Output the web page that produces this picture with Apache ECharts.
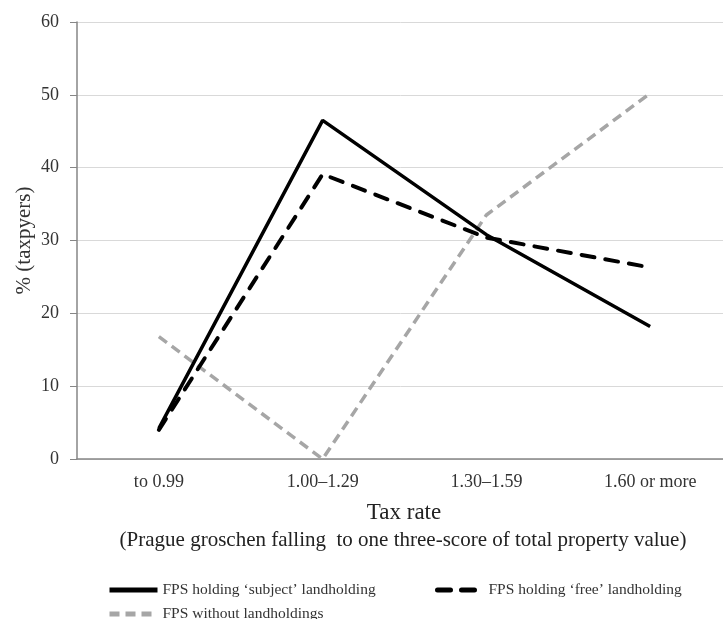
<!DOCTYPE html>
<html>
<head>
<meta charset="utf-8">
<script src="https://cdn.jsdelivr.net/npm/echarts@6/dist/echarts.min.js"></script>
<style>html,body{margin:0;padding:0;background:#fff;}#c{width:723px;height:619px;}</style>
</head>
<body>
<div id="c"></div>
<script>
const categories = ['to 0.99', '1.00\u20131.29', '1.30\u20131.59', '1.60 or more'];
const subjectVals = [4.2, 46.5, 30.8, 18.2];
const freeVals = [4.0, 39.1, 30.4, 26.3];
const withoutVals = [16.8, 0, 33.5, 50.2];
const yTicks = { min: 0, max: 60, interval: 10 };
const names = ['FPS holding \u2018subject\u2019 landholding', 'FPS holding \u2018free\u2019 landholding', 'FPS without landholdings'];

const F = '"Liberation Serif", "Times New Roman", serif';
const chart = echarts.init(document.getElementById('c'), null, { renderer: 'canvas' });
const legendText = { fontFamily: F, fontSize: 15.5, color: '#333' };
const legendBase = { itemWidth: 48, itemHeight: 14, textStyle: legendText, itemStyle: { opacity: 0 }, lineStyle: { width: 5 }, padding: 5 };
chart.setOption({
  animation: false,
  backgroundColor: '#fff',
  grid: { left: 77, top: 22, width: 655, bottom: 160, containLabel: false, outerBoundsMode: 'none' },
  xAxis: {
    type: 'category', data: categories, boundaryGap: true,
    axisLine: { lineStyle: { color: '#868686', width: 1.5 } },
    axisTick: { show: false },
    axisLabel: { fontFamily: F, fontSize: 18, color: '#333', margin: 14 },
    splitLine: { show: false }
  },
  yAxis: {
    type: 'value', min: yTicks.min, max: yTicks.max, interval: yTicks.interval,
    name: '% (taxpyers)', nameLocation: 'middle', nameGap: 42, nameMoveOverlap: false,
    nameTextStyle: { fontFamily: F, fontSize: 21, color: '#333' },
    axisLine: { show: true, lineStyle: { color: '#868686', width: 1.5 } },
    axisTick: { show: true, inside: false, length: 7, lineStyle: { color: '#868686' } },
    axisLabel: { fontFamily: F, fontSize: 18, color: '#333', margin: 18 },
    splitLine: { show: true, lineStyle: { color: '#d9d9d9', width: 1 } }
  },
  legend: [
    Object.assign({ data: [names[0]], left: 102, top: 577 }, legendBase),
    Object.assign({ data: [names[1]], left: 430, top: 577 }, legendBase, { itemWidth: 46 }),
    Object.assign({ data: [names[2]], left: 102, top: 601 }, legendBase)
  ],
  graphic: [
    { type: 'text', x: 404, y: 513, style: { text: 'Tax rate', font: '23px ' + F, fill: '#222', textAlign: 'center', textVerticalAlign: 'middle' } },
    { type: 'text', x: 403, y: 540, style: { text: '(Prague groschen falling  to one three-score of total property value)', font: '21px ' + F, fill: '#222', textAlign: 'center', textVerticalAlign: 'middle' } }
  ],
  series: [
    { name: names[0], type: 'line', data: subjectVals, symbol: 'none', z: 3,
      lineStyle: { color: '#000', width: 3.5, type: 'solid' }, itemStyle: { color: '#000' } },
    { name: names[1], type: 'line', data: freeVals, symbol: 'none', z: 4,
      lineStyle: { color: '#000', width: 4, type: [13, 11], cap: 'round' }, itemStyle: { color: '#000' } },
    { name: names[2], type: 'line', data: withoutVals, symbol: 'none', z: 2,
      lineStyle: { color: '#a6a6a6', width: 3.5, type: [10, 6] }, itemStyle: { color: '#a6a6a6' } }
  ]
});
</script>
</body>
</html>
